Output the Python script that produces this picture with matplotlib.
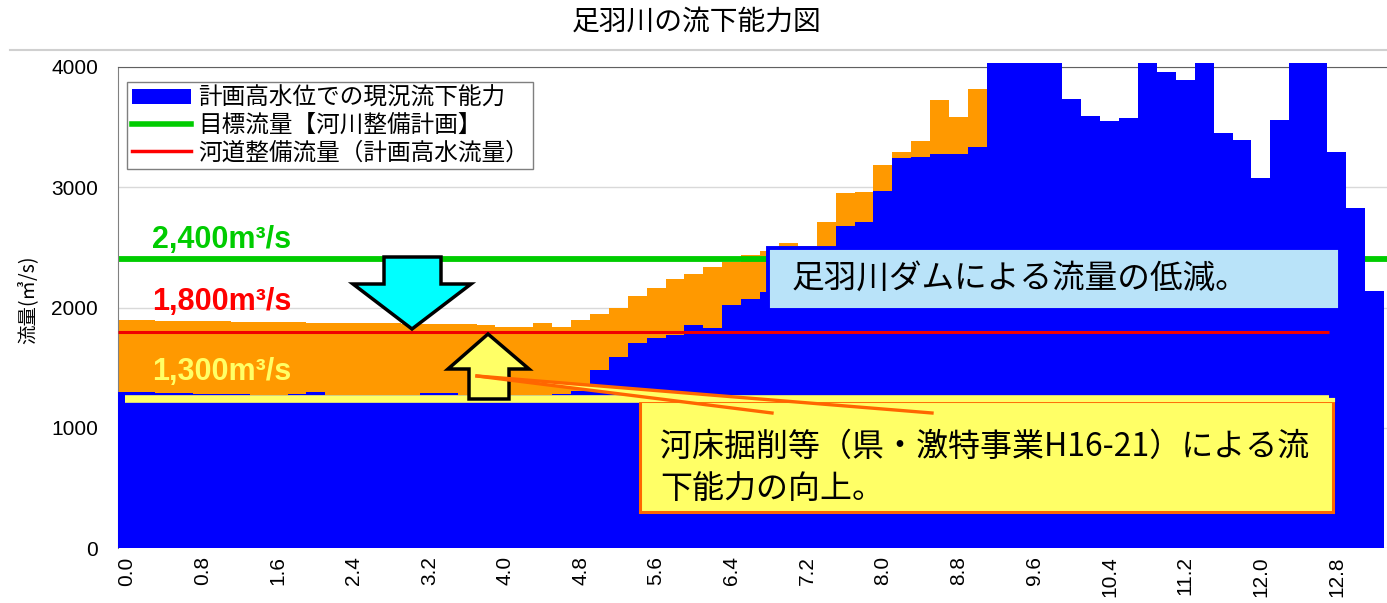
import matplotlib
matplotlib.use('Agg')
import matplotlib.pyplot as plt
from matplotlib.patches import Polygon, Rectangle, Patch
from matplotlib.lines import Line2D

plt.rcParams['font.family'] = ['Noto Sans CJK JP', 'DejaVu Sans']

W, H = 1387, 603

# distance labels (km), one bar every 0.2 km
km_labels = ['0.0', '0.8', '1.6', '2.4', '3.2', '4.0', '4.8', '5.6', '6.4',
             '7.2', '8.0', '8.8', '9.6', '10.4', '11.2', '12.0', '12.8']

# current capacity at design high water level (m3/s)
blue = [1300, 1300, 1290, 1285, 1280, 1280, 1280, 1275, 1275, 1280,
        1295, 1275, 1275, 1275, 1275, 1275, 1285, 1290, 1275, 1275,
        1275, 1275, 1275, 1280, 1305, 1478, 1591, 1705, 1750, 1771,
        1854, 1827, 2021, 2071, 2132, 2230, 2320, 2420, 2680, 2708,
        2972, 3240, 3254, 3277, 3277, 3332, 4030, 4030, 4030, 4030,
        3735, 3590, 3551, 3573, 4030, 3961, 3890, 4030, 3449, 3393,
        3074, 3559, 4030, 4030, 3296, 2825, 2140]

# capacity after riverbed excavation (m3/s)
orange = [1895, 1893, 1891, 1889, 1887, 1885, 1883, 1881, 1879, 1877,
          1875, 1873, 1871, 1869, 1867, 1865, 1863, 1861, 1859, 1856,
          1838, 1838, 1870, 1838, 1895, 1943, 1993, 2093, 2166, 2238,
          2278, 2333, 2381, 2440, 2470, 2534, 2515, 2714, 2950, 2963,
          3185, 3290, 3385, 3726, 3582, 3815]

target_flow = 2400
plan_flow = 1800
improved_flow = 1240

legend_labels = ['計画高水位での現況流下能力', '目標流量【河川整備計画】',
                 '河道整備流量（計画高水流量）']


def px(x, y):
    return (x / W, 1 - y / H)


fig = plt.figure(figsize=(W / 100, H / 100), dpi=100)
ax = fig.add_axes([117.5 / W, 1 - 548 / H, 1 - 117.5 / W, (548 - 67) / H])

idx = list(range(len(blue)))
ax.bar(range(len(orange)), orange, width=1.0, color='#FF9900', linewidth=0, zorder=1)
ax.axhline(target_flow, color='#00CC00', lw=4.2, zorder=2)
ax.bar(idx, blue, width=1.0, color='#0000FF', linewidth=0, zorder=3, clip_on=False)
ax.hlines(plan_flow, -0.5, 63.6, color='#F00000', lw=2.2, zorder=4)
ax.hlines(improved_flow, -0.1, 63.6, color='#FFFF66', lw=5.5, zorder=4)

ax.set_xlim(-0.5, 66.67)
ax.set_ylim(0, 4000)
ax.set_yticks([0, 1000, 2000, 3000, 4000])
ax.set_yticklabels(['0', '1000', '2000', '3000', '4000'], family='Liberation Sans', fontsize=15)
ax.set_xticks(range(0, 4 * len(km_labels), 4))
ax.set_xticklabels(km_labels, rotation=90, family='Liberation Sans', fontsize=15)
ax.tick_params(axis='y', length=0, pad=14)
ax.tick_params(axis='x', length=0, pad=6)
ax.grid(axis='y', color='#D9D9D9', lw=1, zorder=0)
ax.set_axisbelow(True)
for s in ['right', 'bottom']:
    ax.spines[s].set_visible(False)
ax.spines['left'].set_color('#808080')
ax.spines['top'].set_color('#606060')
ax.spines['top'].set_zorder(2.5)

ax.set_ylabel('流量(㎥/s)', fontsize=14)
ax.yaxis.set_label_coords(-0.062, 0.516)

# chart area border line
fig.add_artist(Line2D([10 / W, 1], [1 - 50 / H, 1 - 50 / H], color='#D0D0D0', lw=1.5))

fig.text(*px(697, 22), '足羽川の流下能力図', ha='center', va='center', fontsize=20)

handles = [Patch(facecolor='#0000FF', edgecolor='none'),
           Line2D([], [], color='#00CC00', lw=4),
           Line2D([], [], color='#FF0000', lw=2.5)]
leg = ax.legend(handles, legend_labels, loc='upper left',
                bbox_to_anchor=px(127, 82), bbox_transform=fig.transFigure,
                fancybox=False, edgecolor='#7F7F7F', framealpha=1, fontsize=17,
                borderpad=0.2, labelspacing=0.18, handlelength=2.5,
                handleheight=0.6, handletextpad=0.3, borderaxespad=0)
leg.get_frame().set_linewidth(1)

# flow value labels
bold_font = dict(family='Liberation Sans', fontweight='bold', fontsize=22,
                 ha='left', va='center')
fig.text(*px(152, 240), '2,400m³/s', color='#00CC00', **bold_font)
fig.text(*px(152, 302), '1,800m³/s', color='#FF0000', **bold_font)
fig.text(*px(152, 372), '1,300m³/s', color='#FFFF66', **bold_font)

# down arrow (dam)
down = [(384, 257), (441, 257), (441, 284), (471, 284), (412, 329),
        (353, 284), (384, 284)]
fig.add_artist(Polygon([px(*p) for p in down], closed=True, facecolor='#00FFFF',
                       edgecolor='black', lw=2.5, zorder=6))

# up arrow (excavation)
up = [(488, 334), (529, 369), (509, 369), (509, 399), (469, 399),
      (469, 369), (448, 369)]
fig.add_artist(Polygon([px(*p) for p in up], closed=True, facecolor='#FFFF66',
                       edgecolor='black', lw=2.5, zorder=6))

# callout wedge + box
tip = (477, 376)
wedge = [tip, (772, 413), (932, 413)]
fig.add_artist(Polygon([px(*p) for p in wedge], closed=True, facecolor='#FFFF66',
                       edgecolor='none', zorder=7))
x0, y0 = px(640, 512)
x1, y1 = px(1333, 401)
fig.add_artist(Rectangle((x0, y0), x1 - x0, y1 - y0, transform=fig.transFigure,
                         facecolor='#FFFF66', edgecolor='#FF6600', lw=2.2, zorder=8))
fig.add_artist(Line2D([640 / W, 1333 / W], [1 - 400 / H, 1 - 400 / H],
                      color='#FFFF66', lw=3, zorder=9))
for end in [(772, 413), (932, 413)]:
    fig.add_artist(Line2D([tip[0] / W, end[0] / W], [1 - tip[1] / H, 1 - end[1] / H],
                          color='#FF6600', lw=2.4, zorder=9.5))
fig.text(*px(660, 447), '河床掘削等（県・激特事業H16-21）による流', fontsize=23,
         ha='left', va='center', zorder=10)
fig.text(*px(660, 489), '下能力の向上。', fontsize=23, ha='left', va='center', zorder=10)

x0, y0 = px(768, 310)
x1, y1 = px(1340, 248)
fig.add_artist(Rectangle((x0, y0), x1 - x0, y1 - y0, transform=fig.transFigure,
                         facecolor='#B9E3F9', edgecolor='#0000FF', lw=2.8, zorder=8))
fig.text(*px(792, 279), '足羽川ダムによる流量の低減。', fontsize=23.5,
         ha='left', va='center', zorder=10)

fig.savefig('out.png', dpi=100)
